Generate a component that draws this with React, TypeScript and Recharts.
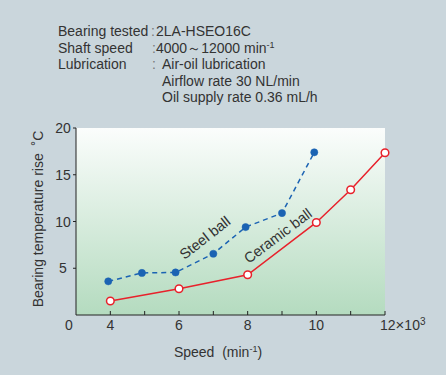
import React from 'react';
import { CartesianGrid, Line, LineChart, XAxis, YAxis } from 'recharts';

// speed ×10³ min⁻¹ / temperature rise °C
const steelSpeed = [3.94, 4.92, 5.9, 7, 7.94, 9, 9.94];
const steelRise = [3.6, 4.5, 4.55, 6.55, 9.4, 10.9, 17.4];
const ceramicSpeed = [4, 6, 8, 10, 11, 12];
const ceramicRise = [1.5, 2.8, 4.3, 9.9, 13.4, 17.35];

const speedTicks = [3, 4, 5, 6, 7, 8, 9, 10, 11, 12];
const speedTickLabels = ['0', '4', '', '6', '', '8', '', '10', '', '12'];
const riseTicks = [5, 10, 15, 20];

const steelData = steelSpeed.map((speed, i) => ({ speed, rise: steelRise[i] }));
const ceramicData = ceramicSpeed.map((speed, i) => ({ speed, rise: ceramicRise[i] }));

const FONT = '"Liberation Sans", Arial, Helvetica, sans-serif';
const TEXT = '#333';
const AXIS = '#222';

const SpeedTick = (props: any) => {
  const { x, y, payload } = props;
  const i = speedTicks.indexOf(payload.value);
  const label = speedTickLabels[i] ?? '';
  if (i === 0) {
    return (
      <text x={x - 7} y={y + 15} textAnchor="middle" fontSize={14} fill={TEXT} fontFamily={FONT}>
        {label}
      </text>
    );
  }
  const last = i === speedTicks.length - 1;
  return (
    <g>
      <line x1={x} y1={y} x2={x} y2={y - 4} stroke={AXIS} />
      {label && (
        <text
          x={last ? x - 5 : x}
          y={y + 15}
          textAnchor={last ? 'start' : 'middle'}
          fontSize={14}
          fill={TEXT}
          fontFamily={FONT}
        >
          {label}
          {last && (
            <>
              <tspan fontSize={15}>×</tspan>
              <tspan>10</tspan>
              <tspan dy={-5} fontSize={10}>3</tspan>
            </>
          )}
        </text>
      )}
    </g>
  );
};

const RiseTick = (props: any) => {
  const { x, y, payload } = props;
  return (
    <text x={x - 8} y={y} dy="0.36em" textAnchor="middle" fontSize={14} fill={TEXT} fontFamily={FONT}>
      {payload.value}
    </text>
  );
};

const abs = (left: number, top: number, extra: React.CSSProperties = {}): React.CSSProperties => ({
  position: 'absolute',
  left,
  top,
  whiteSpace: 'pre',
  ...extra,
});

const App: React.FC = () => (
  <div
    style={{
      position: 'absolute',
      left: 0,
      top: 0,
      width: 446,
      height: 375,
      background: '#cad6dc',
      fontFamily: FONT,
      fontSize: 14,
      lineHeight: '16.5px',
      color: TEXT,
    }}
  >
    <div style={abs(58, 23)}>Bearing tested</div>
    <div style={abs(151, 23, { color: '#777' })}>:</div>
    <div style={abs(156, 23)}>2LA-HSEO16C</div>
    <div style={abs(58, 39.5)}>Shaft speed</div>
    <div style={abs(152, 39.5, { color: '#777' })}>:</div>
    <div style={abs(156, 39.5)}>
      4000～12000 min<span style={{ fontSize: 9, position: 'relative', top: -5 }}>-1</span>
    </div>
    <div style={abs(58, 56)}>Lubrication</div>
    <div style={abs(152, 56, { color: '#777' })}>:</div>
    <div style={abs(162, 56)}>Air-oil lubrication</div>
    <div style={abs(162, 72.5)}>Airflow rate 30 NL/min</div>
    <div style={abs(162, 89)}>Oil supply rate 0.36 mL/h</div>

    <LineChart width={446} height={375} margin={{ top: 128, right: 61, bottom: 0, left: 0 }}>
      <defs>
        <linearGradient id="plotBg" x1="0" y1="0" x2="0" y2="1">
          <stop offset="0%" stopColor="#fbfdfc" />
          <stop offset="100%" stopColor="#b4dbbf" />
        </linearGradient>
      </defs>
      <CartesianGrid fill="url(#plotBg)" horizontal={false} vertical={false} />
      <XAxis
        type="number"
        dataKey="speed"
        domain={[3, 12]}
        ticks={speedTicks}
        interval={0}
        height={60}
        tickSize={0}
        tickMargin={0}
        tickLine={false}
        axisLine={{ stroke: AXIS }}
        tick={<SpeedTick />}
        allowDuplicatedCategory={false}
      />
      <YAxis
        type="number"
        dataKey="rise"
        domain={[0, 20]}
        ticks={riseTicks}
        interval={0}
        width={76}
        tickSize={3}
        tickMargin={2}
        tickLine={{ stroke: AXIS }}
        axisLine={{ stroke: AXIS }}
        tick={<RiseTick />}
      />
      <Line
        data={steelData}
        dataKey="rise"
        type="linear"
        stroke="#1b63b3"
        strokeWidth={1.5}
        strokeDasharray="5 4"
        dot={{ r: 3.6, fill: '#1b63b3', stroke: '#1b63b3', strokeWidth: 0.5, strokeDasharray: '' }}
        isAnimationActive={false}
      />
      <Line
        data={ceramicData}
        dataKey="rise"
        type="linear"
        stroke="#e8212b"
        strokeWidth={1.5}
        dot={{ r: 3.8, fill: '#ffffff', stroke: '#e8212b', strokeWidth: 1.5 }}
        isAnimationActive={false}
      />
    </LineChart>

    <div
      style={abs(205, 238, {
        transform: 'translate(-50%, -50%) rotate(-38deg)',
        fontSize: 14.5,
      })}
    >
      Steel ball
    </div>
    <div
      style={abs(277.5, 236, {
        transform: 'translate(-50%, -50%) rotate(-37deg)',
        fontSize: 14.5,
      })}
    >
      Ceramic ball
    </div>
    <div
      style={abs(38, 218.5, {
        transform: 'translate(-50%, -50%) rotate(-90deg)',
      })}
    >
      Bearing temperature rise  ˚C
    </div>
    <div style={abs(218, 353, { transform: 'translate(-50%, -50%)' })}>
      Speed  (min<span style={{ fontSize: 9, position: 'relative', top: -5 }}>-1</span>)
    </div>
  </div>
);

export default App;
